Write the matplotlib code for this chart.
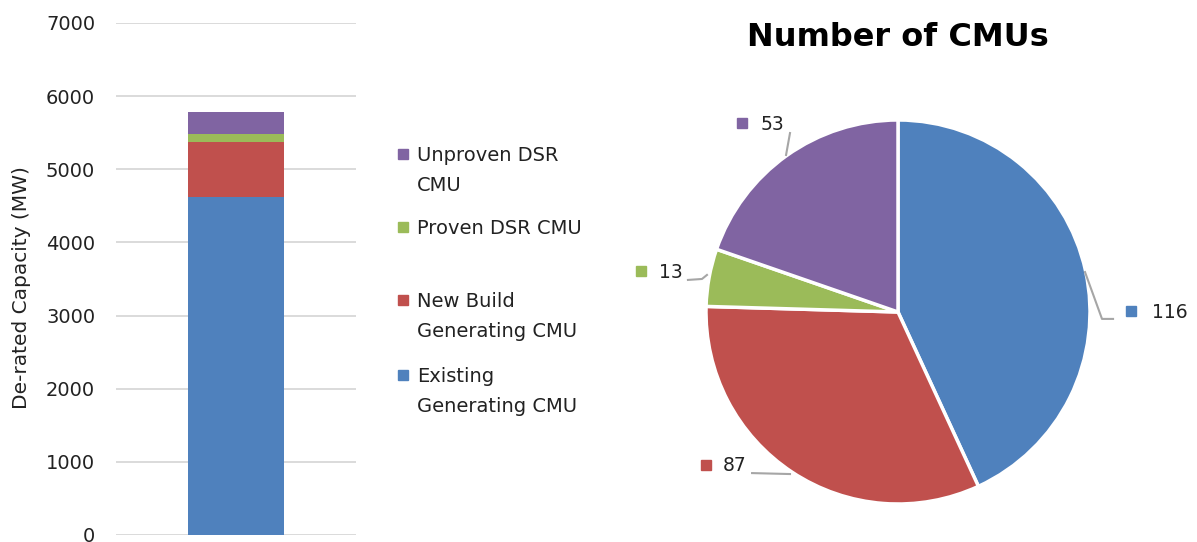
import matplotlib
matplotlib.use("Agg")
import matplotlib.pyplot as plt
from matplotlib.patches import Rectangle

# ---- data ----
bar_series = ["Existing\nGenerating CMU", "New Build\nGenerating CMU", "Proven DSR CMU", "Unproven DSR\nCMU"]
bar_values = [4626, 752, 105, 300]
pie_labels = ["Existing Generating CMU", "New Build Generating CMU", "Proven DSR CMU", "Unproven DSR CMU"]
pie_values = [116, 87, 13, 53]
yticks = [0, 1000, 2000, 3000, 4000, 5000, 6000, 7000]
colors = ["#4f81bd", "#c0504d", "#9bbb59", "#8064a2"]

plt.rcParams['font.family'] = ['DejaVu Sans']
W, H = 1197, 542
fig = plt.figure(figsize=(W/100, H/100), dpi=100)
TXT = "#222222"

# ---- stacked bar ----
axb = fig.add_axes([116/W, 1-535/H, 240/W, 512/H])
bottom = 0
for name, v, c in zip(bar_series, bar_values, colors):
    axb.bar(0.5, v, width=0.396, bottom=bottom, color=c, label=name, zorder=3)
    bottom += v
axb.set_xlim(0, 1)
axb.set_ylim(0, 7000)
axb.set_yticks(yticks)
axb.set_yticklabels([str(t) for t in yticks], fontsize=14, color=TXT)
axb.set_xticks([])
axb.tick_params(axis='y', length=0, pad=15)
for s in axb.spines.values():
    s.set_visible(False)
axb.grid(axis='y', color="#d4d4d4", linewidth=1.2, zorder=0)
axb.set_axisbelow(True)
fig.text(22/W, 1-288/H, "De-rated Capacity (MW)", rotation=90, fontsize=14.5,
         color=TXT, ha='center', va='center')

# ---- manual legend (Excel style: marker aligned with first line) ----
leg_tops = [147, 220, 293, 368]           # cap tops of first line (px)
leg_order = [3, 2, 1, 0]
for top, idx in zip(leg_tops, leg_order):
    lines = bar_series[idx].split("\n")
    for k, line in enumerate(lines):
        base = top + 14 + 30 * k
        fig.text(417/W, 1-base/H, line, fontsize=14, color=TXT, ha='left', va='baseline')
    cyc = top + 7
    fig.patches.append(Rectangle((398/W, 1-(cyc+5)/H), 10/W, 10/H,
                                 transform=fig.transFigure, color=colors[idx]))

# ---- pie ----
cx, cy, r = 898, 312, 192
axp = fig.add_axes([(cx-r)/W, (H-cy-r)/H, 2*r/W, 2*r/H])
axp.pie(pie_values, colors=colors, startangle=90, counterclock=False, radius=1,
        wedgeprops=dict(edgecolor="white", linewidth=2.5))
axp.set_xlim(-1, 1)
axp.set_ylim(-1, 1)
axp.set_aspect('equal')
axp.axis('off')

# label layout (positions in pie radius units)
leaders = [
    [(0.974, 0.208), (1.0625, -0.036), (1.12, -0.036)],
    [(-0.5625, -0.844), (-0.760, -0.839)],
    [(-0.995, 0.193), (-1.021, 0.172), (-1.094, 0.167)],
    [(-0.583, 0.818), (-0.5625, 0.932)],
]
sq_pos = [(1.216, 0.005), (-1.0, -0.797), (-1.341, 0.214), (-0.815, 0.984)]
txt_pos = [(1.323, 0.0), (-0.911, -0.797), (-1.245, 0.208), (-0.714, 0.974)]
for v, c, ld, sp, tp in zip(pie_values, colors, leaders, sq_pos, txt_pos):
    xs, ys = zip(*ld)
    axp.plot(xs, ys, color="#a6a6a6", lw=1.5, clip_on=False)
    axp.plot([sp[0]], [sp[1]], marker='s', color=c, markersize=6.5, clip_on=False)
    axp.text(tp[0], tp[1], str(v), fontsize=13.5, color=TXT, ha='left', va='center')

fig.text(898/W, 1-37/H, "Number of CMUs", fontsize=23, fontweight='bold',
         ha='center', va='center', color="black")

fig.savefig("out.png", dpi=100)
